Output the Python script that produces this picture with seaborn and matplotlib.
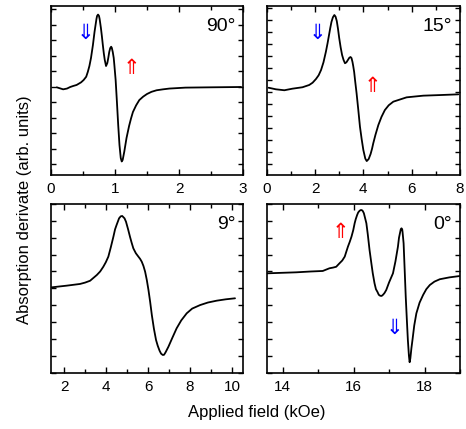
import matplotlib
matplotlib.use("Agg")
import matplotlib.pyplot as plt
from matplotlib.ticker import MultipleLocator
import seaborn as sns
import pandas as pd

sns.set_style("ticks")
plt.rcParams["font.family"] = ["Liberation Sans", "DejaVu Sans"]
plt.rcParams.update({
    "xtick.direction": "in", "ytick.direction": "in",
    "xtick.top": True, "ytick.right": True,
    "axes.linewidth": 1.2, "axes.edgecolor": "black",
    "xtick.major.width": 1.0, "ytick.major.width": 1.0,
    "xtick.minor.width": 1.0, "xtick.major.size": 4.5,
    "xtick.minor.size": 3.0, "ytick.major.size": 3.5,
    "xtick.color": "black", "ytick.color": "black",
    "text.color": "black", "axes.labelcolor": "black",
})

# 90 degree spectrum (field in kOe, derivative signal in arb. units)
field_90 = [0.09, 0.19, 0.25, 0.30, 0.35, 0.40, 0.47, 0.51, 0.55, 0.575, 0.60,
            0.625, 0.655, 0.68, 0.71, 0.72, 0.735, 0.75, 0.76, 0.78, 0.795,
            0.81, 0.825, 0.84, 0.86, 0.88, 0.895, 0.91, 0.925, 0.94, 0.95,
            0.965, 0.98, 0.99, 1.01, 1.03, 1.05, 1.07, 1.09, 1.105, 1.12, 1.145,
            1.18, 1.22, 1.25, 1.28, 1.33, 1.38, 1.44, 1.50, 1.57, 1.65, 1.75,
            1.85, 2.10, 2.50, 2.97]
signal_90 = [-0.04, -0.17, -0.12, -0.02, 0.05, 0.11, 0.28, 0.43, 0.64, 0.95, 1.33,
             1.85, 2.68, 3.52, 4.35, 4.55, 4.64, 4.55, 4.35, 3.77, 3.25,
             2.68, 2.15, 1.72, 1.33, 1.52, 1.85, 2.23, 2.48, 2.57, 2.50,
             2.23, 1.85, 1.40, 0.43, -0.98, -2.46, -3.75, -4.59, -4.81, -4.71,
             -4.18, -3.30, -2.53, -2.05, -1.63, -1.20, -0.86, -0.64, -0.47,
             -0.33, -0.23, -0.17, -0.12, -0.06, -0.04, -0.02]

# 15 degree spectrum
field_15 = [0.08, 0.38, 0.73, 1.06, 1.48, 1.76, 1.90, 2.04, 2.15, 2.25, 2.35,
            2.45, 2.52, 2.58, 2.63, 2.68, 2.74, 2.80, 2.85, 2.90, 2.95, 3.00,
            3.06, 3.12, 3.18, 3.24, 3.30, 3.36, 3.42, 3.47, 3.51, 3.55, 3.58,
            3.62, 3.66, 3.72, 3.79, 3.86, 3.93, 4.00, 4.08, 4.14, 4.22, 4.30,
            4.36, 4.41, 4.50, 4.62, 4.75, 4.89, 5.05, 5.24, 5.79, 6.48, 7.17,
            7.93]
signal_15 = [0.38, 0.25, 0.17, 0.30, 0.42, 0.61, 0.80, 1.11, 1.42, 1.86, 2.50,
             3.38, 4.10, 4.78, 5.35, 5.86, 6.25, 6.44, 6.30, 5.94, 5.30, 4.53,
             3.75, 3.11, 2.70, 2.42, 2.50, 2.69, 2.88, 2.94, 2.85, 2.53, 2.20,
             1.69, 0.95, -0.08, -1.45, -2.87, -3.90, -4.81, -5.52, -5.73, -5.56,
             -5.14, -4.70, -4.25, -3.55, -2.73, -2.05, -1.48, -1.08, -0.78,
             -0.42, -0.28, -0.23, -0.17]

# 9 degree spectrum
field_9 = [1.41, 2.13, 2.76, 3.00, 3.24, 3.56, 3.72, 3.87, 3.99, 4.11, 4.23,
           4.35, 4.43, 4.50, 4.62, 4.70, 4.77, 4.88, 4.95, 5.05, 5.14, 5.22,
           5.30, 5.42, 5.54, 5.62, 5.70, 5.78, 5.86, 5.94, 6.02, 6.10, 6.18,
           6.28, 6.38, 6.46, 6.55, 6.62, 6.70, 6.76, 6.83, 6.97, 7.15, 7.36,
           7.58, 7.84, 8.10, 8.48, 8.85, 9.27, 9.70, 10.14]
signal_9 = [5.06, 5.16, 5.26, 5.34, 5.45, 5.79, 6.00, 6.28, 6.55, 6.88, 7.45,
            8.06, 8.50, 8.75, 9.15, 9.27, 9.29, 9.15, 8.95, 8.50, 8.06, 7.70,
            7.37, 7.08, 6.88, 6.75, 6.58, 6.33, 5.99, 5.50, 4.90, 4.20, 3.42,
            2.60, 1.94, 1.60, 1.30, 1.13, 1.05, 1.06, 1.20, 1.54, 2.05, 2.63,
            3.10, 3.52, 3.80, 4.01, 4.16, 4.27, 4.35, 4.41]

# 0 degree spectrum
field_0 = [13.55, 14.38, 14.80, 15.13, 15.32, 15.42, 15.51, 15.60, 15.68, 15.75,
           15.84, 15.89, 15.94, 15.99, 16.03, 16.06, 16.10, 16.13, 16.17, 16.20,
           16.23, 16.26, 16.29, 16.32, 16.36, 16.40, 16.45, 16.50, 16.54, 16.59,
           16.63, 16.67, 16.71, 16.75, 16.79, 16.83, 16.87, 16.92, 17.00, 17.11,
           17.18, 17.25, 17.28, 17.31, 17.33, 17.35, 17.37, 17.38, 17.41, 17.44,
           17.47, 17.50, 17.53, 17.56, 17.58, 17.60, 17.63, 17.66, 17.71, 17.77,
           17.86, 17.96, 18.05, 18.15, 18.28, 18.43, 18.70, 18.99]
signal_0 = [5.89, 5.95, 6.00, 6.03, 6.19, 6.23, 6.28, 6.48, 6.65, 6.88,
            7.47, 7.75, 8.06, 8.45, 8.86, 9.10, 9.35, 9.50, 9.60, 9.64,
            9.64, 9.58, 9.45, 9.20, 8.86, 8.20, 7.27, 6.50, 5.90, 5.30,
            4.95, 4.80, 4.62, 4.56, 4.55, 4.62, 4.72, 4.90, 5.35, 5.89,
            6.60, 7.47, 8.00, 8.30, 8.50, 8.56, 8.50, 8.35, 7.67, 6.10,
            4.51, 3.20, 1.94, 1.00, 0.62, 0.85, 1.45, 1.94, 2.80, 3.52,
            4.15, 4.61, 4.95, 5.20, 5.40, 5.54, 5.65, 5.73]

W, H = 466, 429
fig = plt.figure(figsize=(W / 100, H / 100), dpi=100)


def box(l, t, r, b):
    return [l / W, 1 - b / H, (r - l) / W, (b - t) / H]


panels = [
    dict(rect=box(51, 6, 243, 175), x=field_90, y=signal_90, xlim=(0, 3),
         ylim=(-5.68, 5.19), major=1, minor=0.5, label="90°",
         arrows=[(0.53, 3.45, "⇓", "blue"), (1.26, 1.18, "⇑", "red")]),
    dict(rect=box(266.7, 6, 460, 175), x=field_15, y=signal_15, xlim=(0, 8),
         ylim=(-6.89, 7.19), major=2, minor=1, label="15°",
         arrows=[(2.09, 4.92, "⇓", "blue"), (4.39, 0.53, "⇑", "red")]),
    dict(rect=box(51, 204, 243, 372.7), x=field_9, y=signal_9,
         xlim=(1.38, 10.52), ylim=(0, 10), major=2, minor=1, label="9°",
         arrows=[]),
    dict(rect=box(266.7, 204, 460, 372.7), x=field_0, y=signal_0,
         xlim=(13.55, 19.0), ylim=(0, 10), major=2, minor=1, label="0°",
         arrows=[(15.64, 8.36, "⇑", "red"), (17.16, 2.63, "⇓", "blue")]),
]

for p in panels:
    ax = fig.add_axes(p["rect"])
    df = pd.DataFrame({"field": p["x"], "signal": p["y"]})
    sns.lineplot(data=df, x="field", y="signal", ax=ax, color="black",
                 linewidth=1.3, sort=False, estimator=None)
    ax.set_xlim(*p["xlim"])
    ax.set_ylim(*p["ylim"])
    ax.xaxis.set_major_locator(MultipleLocator(p["major"]))
    ax.xaxis.set_minor_locator(MultipleLocator(p["minor"]))
    ax.yaxis.set_major_locator(MultipleLocator(1))
    ax.tick_params(axis="y", labelleft=False)
    ax.tick_params(axis="x", which="both", top=True, labelsize=11, pad=5,
                   labelcolor="black")
    ax.set_xlabel("")
    ax.set_ylabel("")
    for s in ax.spines.values():
        s.set_visible(True)
        s.set_linewidth(1.2)
    ax.text(0.96, 0.93, p["label"], transform=ax.transAxes, ha="right",
            va="top", fontsize=14, color="black")
    for ax_x, ax_y, sym, col in p["arrows"]:
        ax.text(ax_x, ax_y, sym, color=col, fontsize=15, ha="center",
                va="center", family=["DejaVu Sans"])

fig.text(257 / W, 1 - 412 / H, "Applied field (kOe)", ha="center",
         va="center", fontsize=12)
fig.text(25 / W, 1 - 210 / H, "Absorption derivate (arb. units)",
         ha="center", va="center", rotation=90, fontsize=12)

fig.savefig("out.png", dpi=100)
